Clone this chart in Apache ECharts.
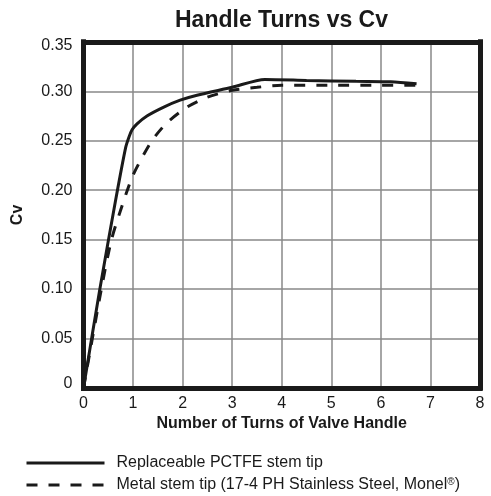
<!DOCTYPE html>
<html>
<head>
<meta charset="utf-8">
<script src="https://cdn.jsdelivr.net/npm/echarts@6/dist/echarts.min.js"></script>
<style>html,body{margin:0;padding:0;background:#fff;}#c{width:491px;height:496px;}</style>
</head>
<body>
<div id="c"></div>
<script>
const solidName = 'Replaceable PCTFE stem tip';
const dashedName = 'Metal stem tip (17-4 PH Stainless Steel, Monel®)';
const solidX = [0, 0.33, 0.645, 0.85, 0.92, 0.98, 1.08, 1.28, 1.62, 1.95, 2.29, 3.0, 3.66, 4.5, 5.5, 6.2, 6.72];
const solidY = [0, 0.10, 0.189, 0.243, 0.254, 0.261, 0.267, 0.275, 0.284, 0.291, 0.296, 0.304, 0.312, 0.311, 0.310, 0.3095, 0.3075];
const dashedX = [0, 0.36, 0.565, 0.81, 0.98, 1.15, 1.38, 1.68, 2.09, 2.5, 3.0, 3.5, 4.0, 5.0, 6.0, 6.72];
const dashedY = [0, 0.10, 0.15, 0.189, 0.213, 0.23, 0.25, 0.268, 0.284, 0.294, 0.301, 0.304, 0.306, 0.306, 0.306, 0.306];
const xTicks = [0, 1, 2, 3, 4, 5, 6, 7, 8];
const yTicks = [0, 0.05, 0.10, 0.15, 0.20, 0.25, 0.30, 0.35];

const font = 'Liberation Sans, Arial, Helvetica, sans-serif';
const ink = '#1a1a1a';
const border = {show: true, onZero: false, lineStyle: {color: ink, width: 5, cap: 'square'}};
const chart = echarts.init(document.getElementById('c'), null, {renderer: 'canvas'});
chart.setOption({
  backgroundColor: '#fff',
  animation: false,
  title: {
    text: 'Handle Turns vs Cv',
    left: 170, top: 4,
    textStyle: {fontFamily: font, fontSize: 23, fontWeight: 'bold', color: ink}
  },
  grid: {left: 83.5, right: 11, top: 41.8, bottom: 108, show: false},
  xAxis: [{
    type: 'value', min: xTicks[0], max: xTicks[xTicks.length - 1], interval: 1,
    name: 'Number of Turns of Valve Handle', nameLocation: 'middle', nameGap: 28,
    nameMoveOverlap: false,
    nameTextStyle: {fontFamily: font, fontSize: 16, fontWeight: 'bold', color: ink},
    axisLine: {show: false}, axisTick: {show: false},
    axisLabel: {fontFamily: font, fontSize: 16, color: ink, margin: 8},
    splitLine: {show: true, lineStyle: {color: '#888', width: 1.5}}
  }, {
    type: 'value', position: 'bottom', min: 0, max: 8,
    axisLine: border, axisTick: {show: false}, axisLabel: {show: false}, splitLine: {show: false}
  }, {
    type: 'value', position: 'top', min: 0, max: 8,
    axisLine: border, axisTick: {show: false}, axisLabel: {show: false}, splitLine: {show: false}
  }],
  yAxis: [{
    type: 'value', min: yTicks[0], max: yTicks[yTicks.length - 1], interval: 0.05,
    name: 'Cv', nameLocation: 'middle', nameGap: 58, nameRotate: 90,
    nameMoveOverlap: false,
    nameTextStyle: {fontFamily: font, fontSize: 16, fontWeight: 'bold', color: ink},
    axisLine: {show: false}, axisTick: {show: false},
    axisLabel: {fontFamily: font, fontSize: 16, color: ink, margin: 11,
      formatter: v => v === 0 ? '{lo|0}' : (Math.abs(v - 0.35) < 1e-9 ? '{hi|' + v.toFixed(2) + '}' : v.toFixed(2)),
      rich: {
        lo: {fontFamily: font, fontSize: 16, color: ink, padding: [0, 0, 9, 0]},
        hi: {fontFamily: font, fontSize: 16, color: ink, padding: [8, 0, 0, 0]}
      }},
    splitLine: {show: true, lineStyle: {color: '#888', width: 1.5}}
  }, {
    type: 'value', position: 'left', min: 0, max: 0.35,
    axisLine: border, axisTick: {show: false}, axisLabel: {show: false}, splitLine: {show: false}
  }, {
    type: 'value', position: 'right', min: 0, max: 0.35,
    axisLine: border, axisTick: {show: false}, axisLabel: {show: false}, splitLine: {show: false}
  }],
  legend: {
    orient: 'vertical', left: 25, top: 455, padding: 0,
    itemWidth: 78, itemHeight: 14, itemGap: 6,
    data: [solidName, dashedName],
    itemStyle: {opacity: 0},
    lineStyle: {width: 3},
    formatter: n => n.replace('®', '{sup|®}'),
    textStyle: {fontFamily: font, fontSize: 16, color: ink, padding: [0, 0, 0, 7],
      rich: {sup: {fontFamily: font, fontSize: 10, color: ink, verticalAlign: 'top', padding: [0, 0, 6, 0]}}}
  },
  series: [
    {
      name: solidName, type: 'line', symbol: 'none', smooth: 0.25,
      data: solidX.map((x, i) => [x, solidY[i]]),
      lineStyle: {color: ink, width: 3, type: 'solid'},
      itemStyle: {color: ink}
    },
    {
      name: dashedName, type: 'line', symbol: 'none', smooth: 0.25,
      data: dashedX.map((x, i) => [x, dashedY[i]]),
      lineStyle: {color: ink, width: 3, type: [11, 11]},
      itemStyle: {color: ink}
    }
  ]
});
</script>
</body>
</html>
